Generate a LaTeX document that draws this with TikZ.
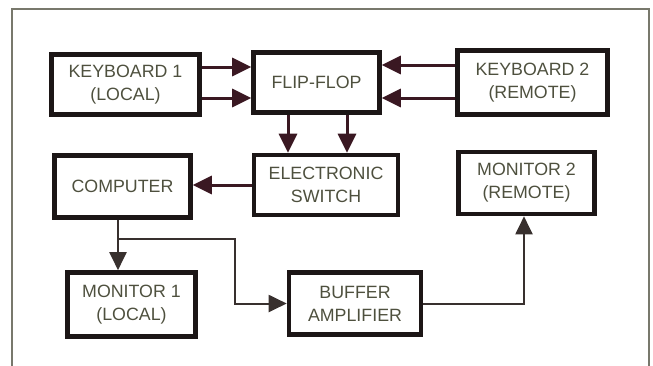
\documentclass[tikz,border=0pt]{standalone}
\usepackage{fontspec}
\setmainfont{Liberation Sans}
\usepackage{xcolor}
\usepackage{tikz}
\usetikzlibrary{arrows.meta, positioning}
\definecolor{inkbox}{RGB}{28, 22, 22}
\definecolor{inkarrow}{RGB}{58, 24, 34}
\definecolor{inkwire}{RGB}{56, 48, 46}
\definecolor{inktext}{RGB}{78, 80, 62}
\definecolor{framegray}{RGB}{120, 120, 108}

\begin{document}
\begin{tikzpicture}[x=0.5pt, y=-0.5pt, font=\fontsize{8.9}{11.6}\selectfont,
   blk/.style={draw=inkbox, line width=2.3pt, text=inktext, align=center, inner sep=1pt},
   arr/.style={draw=inkarrow, line width=1.5pt, -{Triangle[length=9.5pt, width=9pt]}},
   wire/.style={draw=inkwire, line width=1pt, -{Triangle[length=9pt, width=8.5pt]}}]
  \useasboundingbox (0,0) rectangle (653,365);
  \draw[framegray, line width=0.8pt] (12,9) rectangle (649,380);
  % top row
  \node[blk, minimum width=74pt, minimum height=30pt] (kb1) at (125.5,84.5) {KEYBOARD 1\\(LOCAL)};
  \node[blk, minimum width=63pt, minimum height=30pt] (ff) at (316.5,82.5) {FLIP-FLOP};
  \node[blk, minimum width=75pt, minimum height=32pt] (kb2) at (532.5,82.5) {KEYBOARD 2\\(REMOTE)};
  % middle row
  \node[blk, minimum width=68pt, minimum height=31pt] (comp) at (122.5,186.5) {COMPUTER};
  \node[blk, minimum width=72pt, minimum height=30pt] (esw) at (326,185) {ELECTRONIC\\SWITCH};
  \node[blk, minimum width=68pt, minimum height=31pt] (mon2) at (526.5,183) {MONITOR 2\\(REMOTE)};
  % bottom row
  \node[blk, minimum width=64pt, minimum height=32pt] (mon1) at (131.5,304.5) {MONITOR 1\\(LOCAL)};
  \node[blk, minimum width=66pt, minimum height=31pt] (buf) at (355,303.5) {BUFFER\\AMPLIFIER};
  \draw[arr] ([yshift=8.75pt]kb1.east) -- ([yshift=8.75pt]kb1.east -| ff.west);
  \draw[arr] ([yshift=-6.75pt]kb1.east) -- ([yshift=-6.75pt]kb1.east -| ff.west);
  \draw[arr] ([yshift=8.75pt]kb2.west) -- ([yshift=8.75pt]kb2.west -| ff.east);
  \draw[arr] ([yshift=-7.75pt]kb2.west) -- ([yshift=-7.75pt]kb2.west -| ff.east);
  \draw[arr] ([xshift=-14.25pt]ff.south) -- ([xshift=-14.25pt]ff.south |- esw.north);
  \draw[arr] ([xshift=15.25pt]ff.south) -- ([xshift=15.25pt]ff.south |- esw.north);
  \draw[arr] (esw.west) -- (esw.west -| comp.east);
  \coordinate (split) at (118,239); \coordinate (bend) at (235,239);
  \draw[wire, -] (split |- comp.south) -- (split);
  \draw[wire] (split) -- (split |- mon1.north);
  \draw[wire] (split) -- (bend) |- (buf.west);
  \draw[wire] (buf.east) -| ([xshift=-1.25pt]mon2.south);
\end{tikzpicture}
\end{document}
